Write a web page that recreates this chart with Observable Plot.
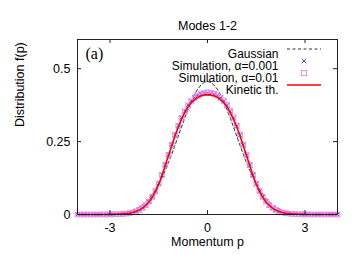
<!DOCTYPE html>
<html>
<head>
<meta charset="utf-8">
<script src="https://cdn.jsdelivr.net/npm/d3@7"></script>
<script src="https://cdn.jsdelivr.net/npm/@observablehq/plot@0.6"></script>
<style>
  html, body { margin: 0; padding: 0; background: #fff; }
  #chart { width: 362px; height: 255px; }
</style>
</head>
<body>
<div id="chart"></div>
<script>
// ---- data ----
const title = "Modes 1-2";
const xLabel = "Momentum p";
const yLabel = "Distribution f(p)";
const panelTag = "(a)";
const xTicks = [-3, 0, 3];
const yTicks = [0, 0.25, 0.5];
const yTickLabels = ["0", "0.25", "0.5"];
const seriesNames = ["Gaussian", "Simulation, α=0.001", "Simulation, α=0.01", "Kinetic th."];

const momentum = [
  -4.0,-3.9,-3.8,-3.7,-3.6,-3.5,-3.4,-3.3,-3.2,-3.1,
  -3.0,-2.9,-2.8,-2.7,-2.6,-2.5,-2.4,-2.3,-2.2,-2.1,
  -2.0,-1.9,-1.8,-1.7,-1.6,-1.5,-1.4,-1.3,-1.2,-1.1,
  -1.0,-0.9,-0.8,-0.7,-0.6,-0.5,-0.4,-0.3,-0.2,-0.1,
  0.0,
  0.1,0.2,0.3,0.4,0.5,0.6,0.7,0.8,0.9,1.0,
  1.1,1.2,1.3,1.4,1.5,1.6,1.7,1.8,1.9,2.0,
  2.1,2.2,2.3,2.4,2.5,2.6,2.7,2.8,2.9,3.0,
  3.1,3.2,3.3,3.4,3.5,3.6,3.7,3.8,3.9,4.0
];

const gaussian = [
  0,0,0,0,0.0001,0.0001,0.0002,0.0003,0.0005,0.0008,
  0.0013,0.0019,0.0027,0.0039,0.0055,0.0077,0.0106,0.0144,0.0193,0.0256,
  0.0335,0.0431,0.0550,0.0691,0.0857,0.105,0.127,0.151,0.178,0.207,
  0.237,0.269,0.300,0.331,0.360,0.387,0.411,0.430,0.444,0.453,
  0.456,
  0.453,0.444,0.430,0.411,0.387,0.360,0.331,0.300,0.269,0.237,
  0.207,0.178,0.151,0.127,0.105,0.0857,0.0691,0.0550,0.0431,0.0335,
  0.0256,0.0193,0.0144,0.0106,0.0077,0.0055,0.0039,0.0027,0.0019,0.0013,
  0.0008,0.0005,0.0003,0.0002,0.0001,0.0001,0,0,0,0
];

const simA001 = [
  0,0,0,0,0,0,0,0,0.0001,0.0002,
  0.0004,0.0006,0.0009,0.0014,0.0022,0.0033,0.0049,0.0074,0.011,0.016,
  0.023,0.032,0.045,0.061,0.081,0.107,0.136,0.171,0.205,0.240,
  0.274,0.305,0.332,0.355,0.375,0.390,0.401,0.409,0.414,0.417,
  0.418,
  0.416,0.413,0.408,0.400,0.389,0.374,0.354,0.331,0.303,0.272,
  0.238,0.203,0.169,0.135,0.105,0.080,0.060,0.044,0.032,0.022,
  0.015,0.0105,0.0072,0.0047,0.0031,0.0021,0.0014,0.0009,0.0006,0.0004,
  0.0002,0.0001,0.0001,0,0,0,0,0,0,0
];

const simA01 = [
  0,0,0,0,0,0,0,0.0001,0.0001,0.0002,
  0.0003,0.0005,0.0009,0.0013,0.0021,0.0032,0.0047,0.0071,0.0105,0.0155,
  0.0225,0.0315,0.044,0.060,0.080,0.106,0.135,0.170,0.204,0.238,
  0.272,0.303,0.330,0.352,0.372,0.387,0.399,0.407,0.413,0.416,
  0.419,
  0.417,0.414,0.409,0.401,0.391,0.376,0.356,0.333,0.305,0.274,
  0.240,0.205,0.170,0.136,0.106,0.081,0.061,0.045,0.032,0.023,
  0.0155,0.0107,0.0073,0.0048,0.0032,0.0021,0.0014,0.0009,0.0005,0.0003,
  0.0002,0.0001,0,0,0,0,0,0,0,0
];

const kinetic = [
  0,0,0,0,0,0,0,0.0001,0.0001,0.0002,
  0.0003,0.0005,0.0008,0.0013,0.002,0.003,0.0045,0.007,0.010,0.015,
  0.022,0.031,0.043,0.059,0.079,0.104,0.134,0.168,0.202,0.236,
  0.270,0.300,0.327,0.349,0.369,0.383,0.394,0.402,0.407,0.410,
  0.411,
  0.410,0.407,0.402,0.394,0.383,0.369,0.349,0.327,0.300,0.270,
  0.236,0.202,0.168,0.134,0.104,0.079,0.059,0.043,0.031,0.022,
  0.015,0.010,0.007,0.0045,0.003,0.002,0.0013,0.0008,0.0005,0.0003,
  0.0002,0.0001,0.0001,0,0,0,0,0,0,0
];

// ---- build ----
const W = 362, H = 255;
const mL = 77, mR = 25, mT = 39, mB = 41;
const plotW = W - mL - mR, plotH = H - mT - mB;
const TICK = 4;
const FONT = "'Liberation Sans', Arial, sans-serif";
const colGauss = "#333333", colSim1 = "#4a4af0", colSim2 = "#e58cf2", colKin = "#ff0000";

const rows = (ys) => momentum.map((p, i) => ({p, f: ys[i]}));

const legendRowDy = (i) => 10 + i * 12;
const legendText = seriesNames.map((name, i) =>
  Plot.text([name], {frameAnchor: "top-right", textAnchor: "end", dx: -59, dy: legendRowDy(i), fontSize: 12})
);

const chart = Plot.plot({
  width: W, height: H,
  marginLeft: mL, marginRight: mR, marginTop: mT, marginBottom: mB,
  style: {fontFamily: FONT, fontSize: "12.5px", color: "#000", background: "#fff"},
  x: {domain: [-4, 4], axis: null},
  y: {domain: [0, 0.6], axis: null},
  marks: [
    // series
    Plot.line(rows(gaussian), {x: "p", y: "f", stroke: colGauss, strokeWidth: 1, strokeDasharray: "3,2.5"}),
    Plot.dot(rows(simA001), {x: "p", y: "f", symbol: "times", r: 2.4, stroke: colSim1, strokeWidth: 1}),
    Plot.dot(rows(simA01), {x: "p", y: "f", symbol: "square", r: 2.6, stroke: colSim2, fill: "none", strokeWidth: 1}),
    Plot.line(rows(kinetic), {x: "p", y: "f", stroke: colKin, strokeWidth: 1.6}),
    // frame
    Plot.frame({stroke: "#222", strokeWidth: 1}),
    // inner ticks (mirrored)
    Plot.tickX(xTicks, {x: d => d, insetTop: plotH - TICK, stroke: "#222"}),
    Plot.tickX(xTicks, {x: d => d, insetBottom: plotH - TICK, stroke: "#222"}),
    Plot.tickY(yTicks, {y: d => d, insetRight: plotW - TICK, stroke: "#222"}),
    Plot.tickY(yTicks, {y: d => d, insetLeft: plotW - TICK, stroke: "#222"}),
    // tick labels
    Plot.axisX({ticks: xTicks, tickSize: 0, tickPadding: 9, tickFormat: d => String(d), fontSize: 12.5, label: null}),
    Plot.axisY({ticks: yTicks, tickSize: 0, tickPadding: 7, tickFormat: d => yTickLabels[yTicks.indexOf(d)], fontSize: 12.5, label: null}),
    // titles
    Plot.text([title], {frameAnchor: "top", dy: -18, fontSize: 12.5}),
    Plot.text([xLabel], {frameAnchor: "bottom", dy: 31, fontSize: 12.5}),
    Plot.text([yLabel], {frameAnchor: "left", dx: -58, rotate: -90, fontSize: 12.5}),
    Plot.text([panelTag], {frameAnchor: "top-left", dx: 8, dy: 8, textAnchor: "start", lineAnchor: "top",
      fontFamily: "'Liberation Serif', 'Times New Roman', serif", fontSize: 16}),
    // legend labels
    ...legendText
  ]
});

document.getElementById("chart").appendChild(chart);

// legend samples (layout only)
const svg = d3.select(chart);
const g = svg.append("g");
const lx1 = W - mR - 50, lx2 = W - mR - 16, lxc = (lx1 + lx2) / 2;
const ly = (i) => mT + legendRowDy(i);
g.append("line").attr("x1", lx1).attr("x2", lx2).attr("y1", ly(0)).attr("y2", ly(0))
  .attr("stroke", colGauss).attr("stroke-width", 1).attr("stroke-dasharray", "3,2.5");
const xs = 2.2;
g.append("path").attr("d", `M${lxc-xs},${ly(1)-xs}L${lxc+xs},${ly(1)+xs}M${lxc-xs},${ly(1)+xs}L${lxc+xs},${ly(1)-xs}`)
  .attr("stroke", colSim1).attr("stroke-width", 1).attr("fill", "none");
g.append("rect").attr("x", lxc - 2.6).attr("y", ly(2) - 2.6).attr("width", 5.2).attr("height", 5.2)
  .attr("stroke", colSim2).attr("fill", "none").attr("stroke-width", 1);
g.append("line").attr("x1", lx1).attr("x2", lx2).attr("y1", ly(3)).attr("y2", ly(3))
  .attr("stroke", colKin).attr("stroke-width", 1.6);
</script>
</body>
</html>
